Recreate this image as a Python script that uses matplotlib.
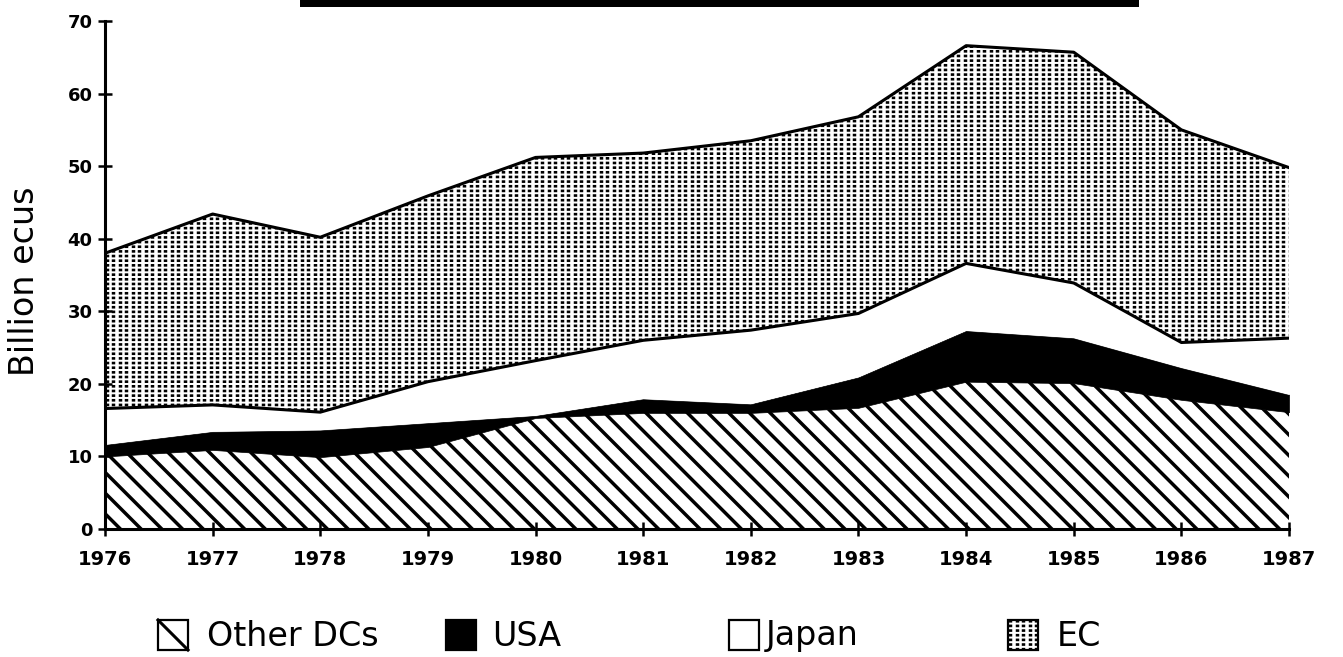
import matplotlib
matplotlib.use('Agg')
import matplotlib.pyplot as plt
import numpy as np
from matplotlib.collections import LineCollection
from matplotlib.patches import Rectangle
from matplotlib.transforms import IdentityTransform

# Data (billion ecus, stacked)
years = list(range(1976, 1988))
other_dcs = [10.0, 10.9, 9.9, 11.3, 15.3, 16.0, 16.0, 16.7, 20.3, 20.1, 17.8, 16.1]
usa = [1.6, 2.5, 3.7, 3.3, 0.3, 1.9, 1.2, 4.2, 7.0, 6.2, 4.4, 2.4]
japan = [5.0, 3.7, 2.5, 5.7, 7.6, 8.1, 10.2, 8.8, 9.3, 7.6, 3.5, 7.8]
ec = [21.4, 26.3, 24.1, 25.6, 28.0, 25.8, 26.1, 27.1, 30.0, 31.8, 29.3, 23.5]
series_names = ['Other DCs', 'USA', 'Japan', 'EC']
yticks = list(range(0, 71, 10))

plt.rcParams['lines.scale_dashes'] = False

W, H, DPI = 1343, 657, 100
fig = plt.figure(figsize=(W / DPI, H / DPI), dpi=DPI)
ax = fig.add_axes([105 / W, 128 / H, 1184 / W, 508 / H])
ax.set_xlim(years[0], years[-1])
ax.set_ylim(0, 70)

polys = ax.stackplot(years, other_dcs, usa, japan, ec,
                     colors=['white', 'black', 'white', 'white'], linewidth=0)
polys[1].set_edgecolor('black')
polys[1].set_linewidth(0.5)


# fill patterns drawn in pixel space, clipped to a shape
def diagonal_lines(x0, x1, y0, y1, spacing=20.7, lw=2.5):
    span = y1 - y0
    segs = [[(c, y1), (c + span, y0)] for c in np.arange(x0 - span, x1 + spacing, spacing)]
    return LineCollection(segs, colors='black', linewidths=lw, capstyle='butt',
                          transform=IdentityTransform())


def dot_columns(x0, x1, y0, y1, dx=6.5, lw=2.5, dash=(1.9, 1.45)):
    segs = [[(x, y0), (x, y1)] for x in np.arange(x0, x1, dx)]
    return LineCollection(segs, colors='black', linewidths=lw, capstyle='butt',
                          linestyles=[(0, dash)], transform=IdentityTransform())


hatch = diagonal_lines(0, W, 0, H)
ax.add_collection(hatch, autolim=False)
hatch.set_clip_path(polys[0].get_paths()[0], polys[0].get_transform())

dots = dot_columns(100, W, 0, H)
ax.add_collection(dots, autolim=False)
dots.set_clip_path(polys[3].get_paths()[0], polys[3].get_transform())

# outlines of the EC and Japan tops
cum = np.cumsum([other_dcs, usa, japan, ec], axis=0)
ax.plot(years, cum[3], color='black', lw=2.2, solid_joinstyle='round')
ax.plot(years, cum[2], color='black', lw=2.2, solid_joinstyle='round')

for side in ['top', 'right']:
    ax.spines[side].set_visible(False)
for side in ['left', 'bottom']:
    ax.spines[side].set_linewidth(2.2)
ax.set_xticks(years)
ax.set_yticks(yticks)
ax.tick_params(axis='both', direction='inout', length=10, width=1.8)
ax.tick_params(axis='x', pad=10, labelsize=14)
ax.tick_params(axis='y', pad=4, labelsize=13)
for lab in ax.get_xticklabels() + ax.get_yticklabels():
    lab.set_fontweight('bold')

fig.text(25 / W, (H - 281) / H, 'Billion ecus', rotation=90, fontsize=24,
         ha='center', va='center')

# black bar left at the top of the page
fig.add_artist(Rectangle((300, H - 7), 839, 12, facecolor='black',
                         edgecolor='none', transform=IdentityTransform()))

# legend row
legend_x = [158, 446, 729, 1008]
text_x = [207, 492, 766, 1057]
box_y, box_s = H - 650, 30
for i, name in enumerate(series_names):
    bx = legend_x[i]
    face = 'black' if name == 'USA' else 'white'
    box = Rectangle((bx, box_y), box_s, box_s, facecolor=face, edgecolor='black',
                    lw=1.6, transform=IdentityTransform())
    fig.add_artist(box)
    if name == 'Other DCs':
        fig.add_artist(plt.Line2D([bx, bx + box_s], [box_y + box_s, box_y], color='black',
                                  lw=2.2, transform=IdentityTransform()))
    if name == 'EC':
        pat = dot_columns(bx + 2, bx + box_s, box_y, box_y + box_s)
        fig.add_artist(pat)
        pat.set_clip_path(box)
    fig.text(text_x[i] / W, (H - 636) / H, name, fontsize=24, ha='left', va='center')

fig.savefig('out.png', dpi=DPI, facecolor='white')
